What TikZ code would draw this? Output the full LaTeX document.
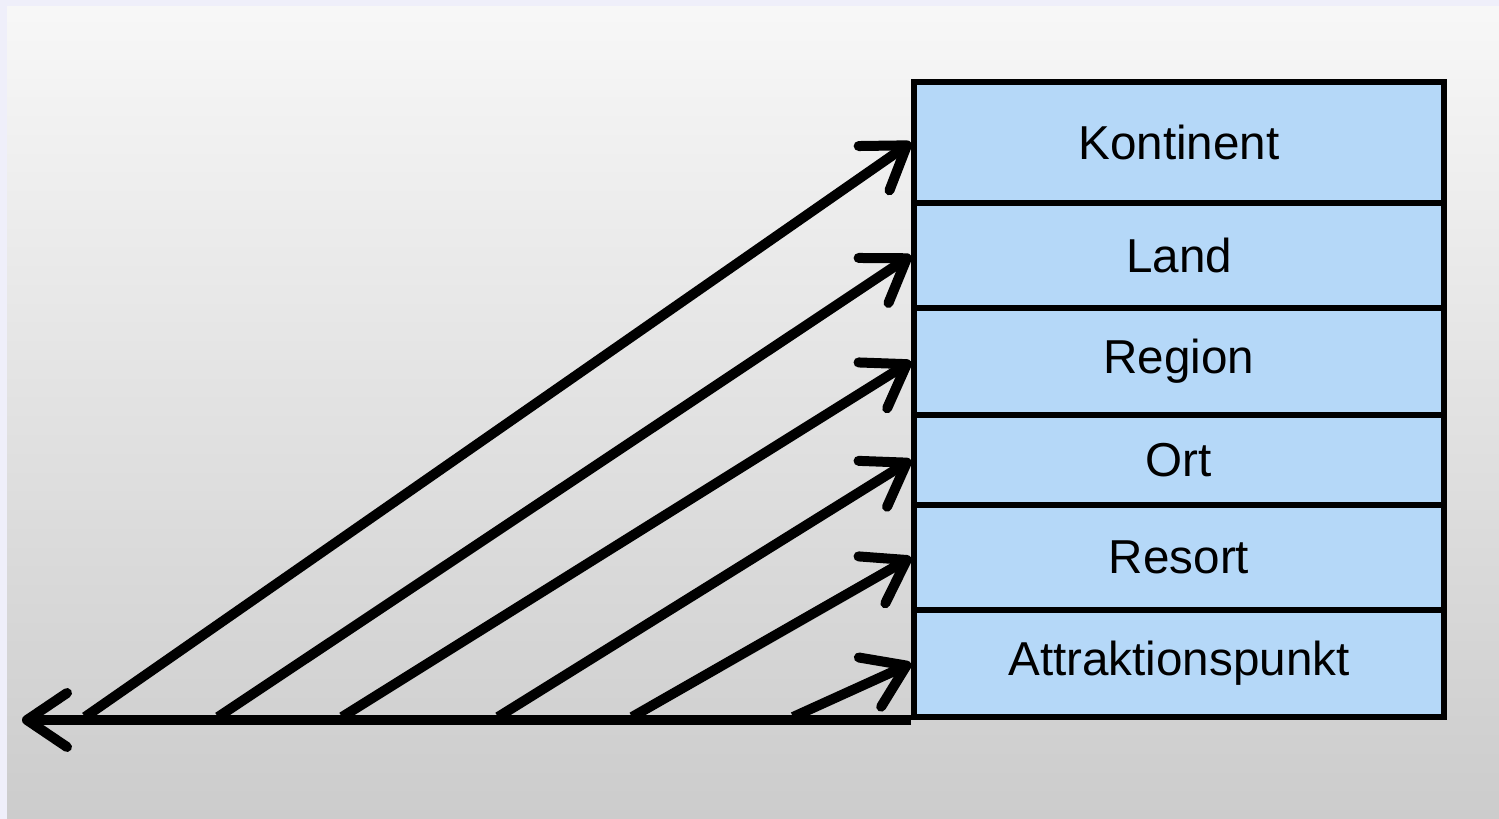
\documentclass[tikz,border=0pt]{standalone}
\usepackage{fontspec}
\setmainfont{Liberation Sans}
\usetikzlibrary{arrows.meta}

\definecolor{levelblue}{RGB}{181,216,248}
\definecolor{frame}{RGB}{239,239,250}

\tikzset{
  level/.style={draw, line width=3pt, fill=levelblue, minimum width=265pt,
    inner sep=0pt, font=\fontsize{23.8pt}{28pt}\selectfont},
  zoom/.style={line width=5pt, -{Straight Barb[length=20pt,width=27pt,round]}}
}

\begin{document}
\begin{tikzpicture}
[x=0.5pt,y=-0.5pt]
  \useasboundingbox (0,0) rectangle (1499,819);
  \fill[frame] (0,0) rectangle (1499,819);
  \shade[top color=black!3, bottom color=black!20] (7,6) rectangle (1499,819);

  % the levels, top to bottom
  \foreach \name/\ytop/\ybot/\text in
    {kont/82/203/Kontinent, land/203/308/Land, region/308/415/Region,
     ort/415/505/Ort, resort/505/610/Resort, attr/610/717/Attraktionspunkt}
  {
    \node[level, minimum height={(\ybot-\ytop)*0.5pt}] (\name)
      at (1179,{(\ytop+\ybot)/2}) {\text};
  }

  % axis with its start points
  \coordinate (end) at (22,717);
  \foreach \name/\x in {kont/85, land/218, region/342, ort/498, resort/632, attr/793}
    \coordinate (s-\name) at (\x,717);

  \draw[zoom] (attr.south west) -- (attr.south west -| end);

  \foreach \name in {kont, land, region, ort, resort, attr}
    \draw[zoom] (s-\name) -- (\name.west);
\end{tikzpicture}
\end{document}
